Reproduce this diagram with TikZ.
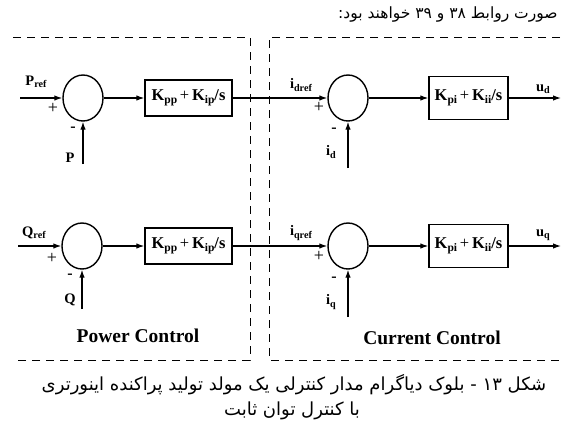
\documentclass[tikz,border=0pt]{standalone}
\usepackage{fontspec}
\setmainfont{Liberation Serif}
\newfontfamily\farsi[Script=Arabic]{DejaVu Sans}
\TeXXeTstate=1
\usetikzlibrary{arrows.meta,shapes.geometric}

\newcommand{\lbl}[2]{\textbf{#1}\raisebox{-0.35ex}{\fontsize{0.7em}{1em}\selectfont\textbf{#2}}}
\newcommand{\pigain}[2]{\lbl{K}{#1}\,+\,\lbl{K}{#2}\textbf{/s}}

\begin{document}
\begin{tikzpicture}[x=1pt,y=-1pt,
    sumnode/.style={draw,ellipse,line width=1.4pt,minimum width=40pt,minimum height=46pt,inner sep=0pt},
    gainbox/.style={draw,line width=1.3pt,inner sep=0pt,font=\fontsize{16.5}{18}\selectfont},
    sig/.style={line width=1.2pt,-{Latex[length=8pt,width=5.5pt]}},
    frame/.style={line width=0.9pt,dash pattern=on 8pt off 6pt},
    txt/.style={font=\fontsize{14.5}{16}\selectfont},
    sign/.style={font=\fontsize{18}{18}\selectfont},
    minus/.style={font=\fontsize{16}{16}\selectfont\bfseries},
    title/.style={font=\fontsize{19.5}{22}\selectfont\bfseries},
    farsitxt/.style={font=\farsi\fontsize{15.5}{18}\selectfont},
    captxt/.style={font=\farsi\fontsize{18}{21}\selectfont}]
    \useasboundingbox (0,0) rectangle (575,429);

    \node[farsitxt,anchor=east] (head) at (561,15) {\beginR صورت روابط ۳۸ و ۳۹ خواهند بود:\endR};

    % dashed frames
    \draw[frame] (13,37) -- (250,37) -- (250,360) -- (13,360);
    \draw[frame] (560,37) -- (269,37) -- (269,360) -- (560,360);

    % d-axis / active power row
    \node[sumnode] (sumP) at (83,98) {};
    \node[gainbox,minimum width=87pt,minimum height=36pt] (pcP) at (188.5,98) {\pigain{pp}{ip}};
    \node[sumnode] (sumId) at (348,98) {};
    \node[gainbox,minimum width=79pt,minimum height=43pt] (ccD) at (468.5,98) {\pigain{pi}{ii}};
    \coordinate (inP) at (20,98);
    \coordinate (fbP) at (83,164);
    \coordinate (fbId) at (348,168);
    \coordinate (outD) at (561,98);

    \draw[sig] (inP) -- (sumP);
    \draw[sig] (fbP) -- (sumP);
    \draw[sig] (sumP) -- (pcP);
    \draw[sig] (pcP) -- (sumId);
    \draw[sig] (fbId) -- (sumId);
    \draw[sig] (sumId) -- (ccD);
    \draw[sig] (ccD) -- (outD);

    \node[txt] (lPref) at (36,82) {\lbl{P}{ref}};
    \node[sign] (plP) at (53,108) {+};
    \node[minus] (miP) at (73,129) {-};
    \node[txt] (lP) at (70,158) {\textbf{P}};
    \node[txt] (lIdref) at (301,85) {\lbl{i}{dref}};
    \node[sign] (plId) at (319,107) {+};
    \node[minus] (miId) at (334,130) {-};
    \node[txt] (lId) at (331,152) {\lbl{i}{d}};
    \node[txt] (lUd) at (543,89) {\lbl{u}{d}};

    % q-axis / reactive power row
    \node[sumnode] (sumQ) at (82,246) {};
    \node[gainbox,minimum width=87pt,minimum height=36pt] (pcQ) at (188.5,246) {\pigain{pp}{ip}};
    \node[sumnode] (sumIq) at (348,246) {};
    \node[gainbox,minimum width=79pt,minimum height=43pt] (ccQ) at (468.5,246) {\pigain{pi}{ii}};
    \coordinate (inQ) at (18,246);
    \coordinate (fbQ) at (82,309);
    \coordinate (fbIq) at (348,317);
    \coordinate (outQ) at (561,246);

    \draw[sig] (inQ) -- (sumQ);
    \draw[sig] (fbQ) -- (sumQ);
    \draw[sig] (sumQ) -- (pcQ);
    \draw[sig] (pcQ) -- (sumIq);
    \draw[sig] (fbIq) -- (sumIq);
    \draw[sig] (sumIq) -- (ccQ);
    \draw[sig] (ccQ) -- (outQ);

    \node[txt] (lQref) at (34,233) {\lbl{Q}{ref}};
    \node[sign] (plQ) at (52,258) {+};
    \node[minus] (miQ) at (70,276) {-};
    \node[txt] (lQ) at (70,300) {\textbf{Q}};
    \node[txt] (lIqref) at (301,233) {\lbl{i}{qref}};
    \node[sign] (plIq) at (319,256) {+};
    \node[minus] (miIq) at (334,279) {-};
    \node[txt] (lIq) at (331,302) {\lbl{i}{q}};
    \node[txt] (lUq) at (543,235) {\lbl{u}{q}};

    \node[title] (pwr) at (138,336) {Power Control};
    \node[title] (cur) at (432,338) {Current Control};

    \node[captxt] (cap1) at (294,385) {\beginR شکل ۱۳ - بلوک دیاگرام مدار کنترلی یک مولد تولید پراکنده اینورتری\endR};
    \node[captxt] (cap2) at (292,411) {\beginR با کنترل توان ثابت\endR};
\end{tikzpicture}
\end{document}
